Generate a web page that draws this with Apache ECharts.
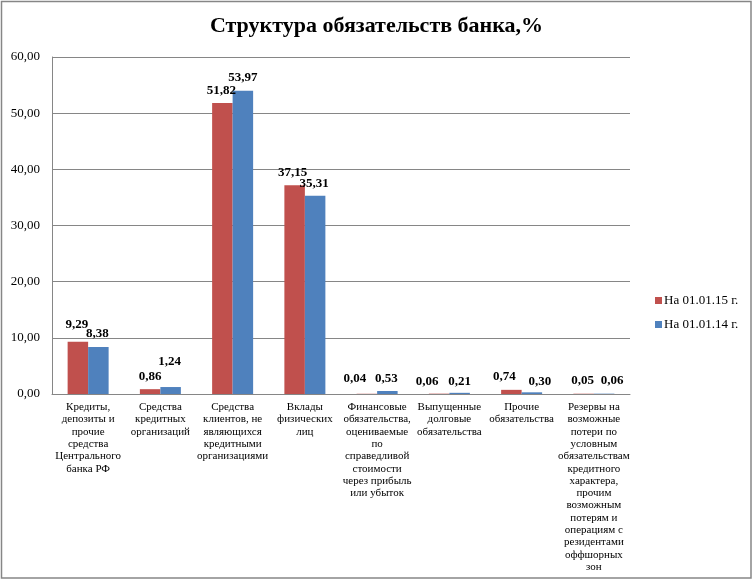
<!DOCTYPE html>
<html>
<head>
<meta charset="utf-8">
<script src="https://cdn.jsdelivr.net/npm/echarts@6/dist/echarts.min.js"></script>
<style>html,body{margin:0;padding:0;background:#fff}#c{width:753px;height:580px}</style>
</head>
<body>
<div id="c"></div>
<script>
const categories = [
  "Кредиты,\nдепозиты и\nпрочие\nсредства\nЦентрального\nбанка РФ",
  "Средства\nкредитных\nорганизаций",
  "Средства\nклиентов, не\nявляющихся\nкредитными\nорганизациями",
  "Вклады\nфизических\nлиц",
  "Финансовые\nобязательства,\nоцениваемые\nпо\nсправедливой\nстоимости\nчерез прибыль\nили убыток",
  "Выпущенные\nдолговые\nобязательства",
  "Прочие\nобязательства",
  "Резервы на\nвозможные\nпотери по\nусловным\nобязательствам\nкредитного\nхарактера,\nпрочим\nвозможным\nпотерям и\nоперациям с\nрезидентами\nоффшорных\nзон"
];
const seriesNames = ["На 01.01.15 г.", "На 01.01.14 г."];
const values2015 = [9.29, 0.86, 51.82, 37.15, 0.04, 0.06, 0.74, 0.05];
const values2014 = [8.38, 1.24, 53.97, 35.31, 0.53, 0.21, 0.30, 0.06];

// label nudges (style only)
const shift2015 = [[-1,-6],[0,-1],[-1,-1],[-2,-1],[-12,-4],[-12,-1],[-7,-2],[-1,-2]];
const shift2014 = [[-1,-2],[-1,-14],[0,-2],[-1,-1],[-1,-1],[0,0],[8,1],[8,-2]];

const fmt = v => v.toFixed(2).replace('.', ',');
const serif = "'Liberation Serif', 'Times New Roman', serif";

function build(vals, shifts) {
  return vals.map((v, i) => ({
    value: v,
    label: { offset: shifts[i] }
  }));
}

const chart = echarts.init(document.getElementById('c'), null, {renderer: 'canvas'});
chart.setOption({
  backgroundColor: '#fff',
  animation: false,
  title: {
    text: 'Структура обязательств банка,%',
    left: 'center',
    top: 10,
    textStyle: { fontFamily: serif, fontSize: 22, fontWeight: 'bold', color: '#000' }
  },
  legend: {
    orient: 'vertical',
    left: 650,
    top: 289,
    itemWidth: 7,
    itemHeight: 7,
    itemGap: 11,
    icon: 'rect',
    data: seriesNames,
    textStyle: { fontFamily: serif, fontSize: 13, color: '#000', padding: [0,0,0,-3] }
  },
  grid: { left: 52, right: 123, top: 57, bottom: 186, containLabel: false },
  xAxis: {
    type: 'category',
    data: categories,
    axisTick: { show: false },
    axisLine: { lineStyle: { color: '#868686', width: 1 } },
    axisLabel: {
      interval: 0,
      fontFamily: serif,
      fontSize: 11,
      lineHeight: 12.3,
      color: '#000',
      margin: 7,
      verticalAlign: 'top'
    }
  },
  yAxis: {
    type: 'value',
    min: 0, max: 60, interval: 10,
    axisLine: { show: true, lineStyle: { color: '#868686', width: 1 } },
    axisTick: { show: false },
    splitLine: { lineStyle: { color: '#868686', width: 1 } },
    axisLabel: { formatter: fmt, fontFamily: serif, fontSize: 13, color: '#000', margin: 12 }
  },
  series: [
    {
      name: seriesNames[0], type: 'bar', barWidth: 20.5, barGap: '0%',
      itemStyle: { color: '#C0504D' },
      label: { show: true, position: 'top', distance: 5, formatter: p => fmt(p.value),
        fontFamily: serif, fontSize: 13, fontWeight: 'bold', color: '#000' },
      data: build(values2015, shift2015)
    },
    {
      name: seriesNames[1], type: 'bar', barWidth: 20.5, barGap: '0%',
      itemStyle: { color: '#4F81BD' },
      label: { show: true, position: 'top', distance: 5, formatter: p => fmt(p.value),
        fontFamily: serif, fontSize: 13, fontWeight: 'bold', color: '#000' },
      data: build(values2014, shift2014)
    }
  ],
  graphic: [{
    type: 'rect',
    shape: { x: 1.5, y: 1.5, width: 749.5, height: 576.5 },
    style: { fill: null, stroke: '#868686', lineWidth: 1.5 },
    silent: true
  }]
});
</script>
</body>
</html>
